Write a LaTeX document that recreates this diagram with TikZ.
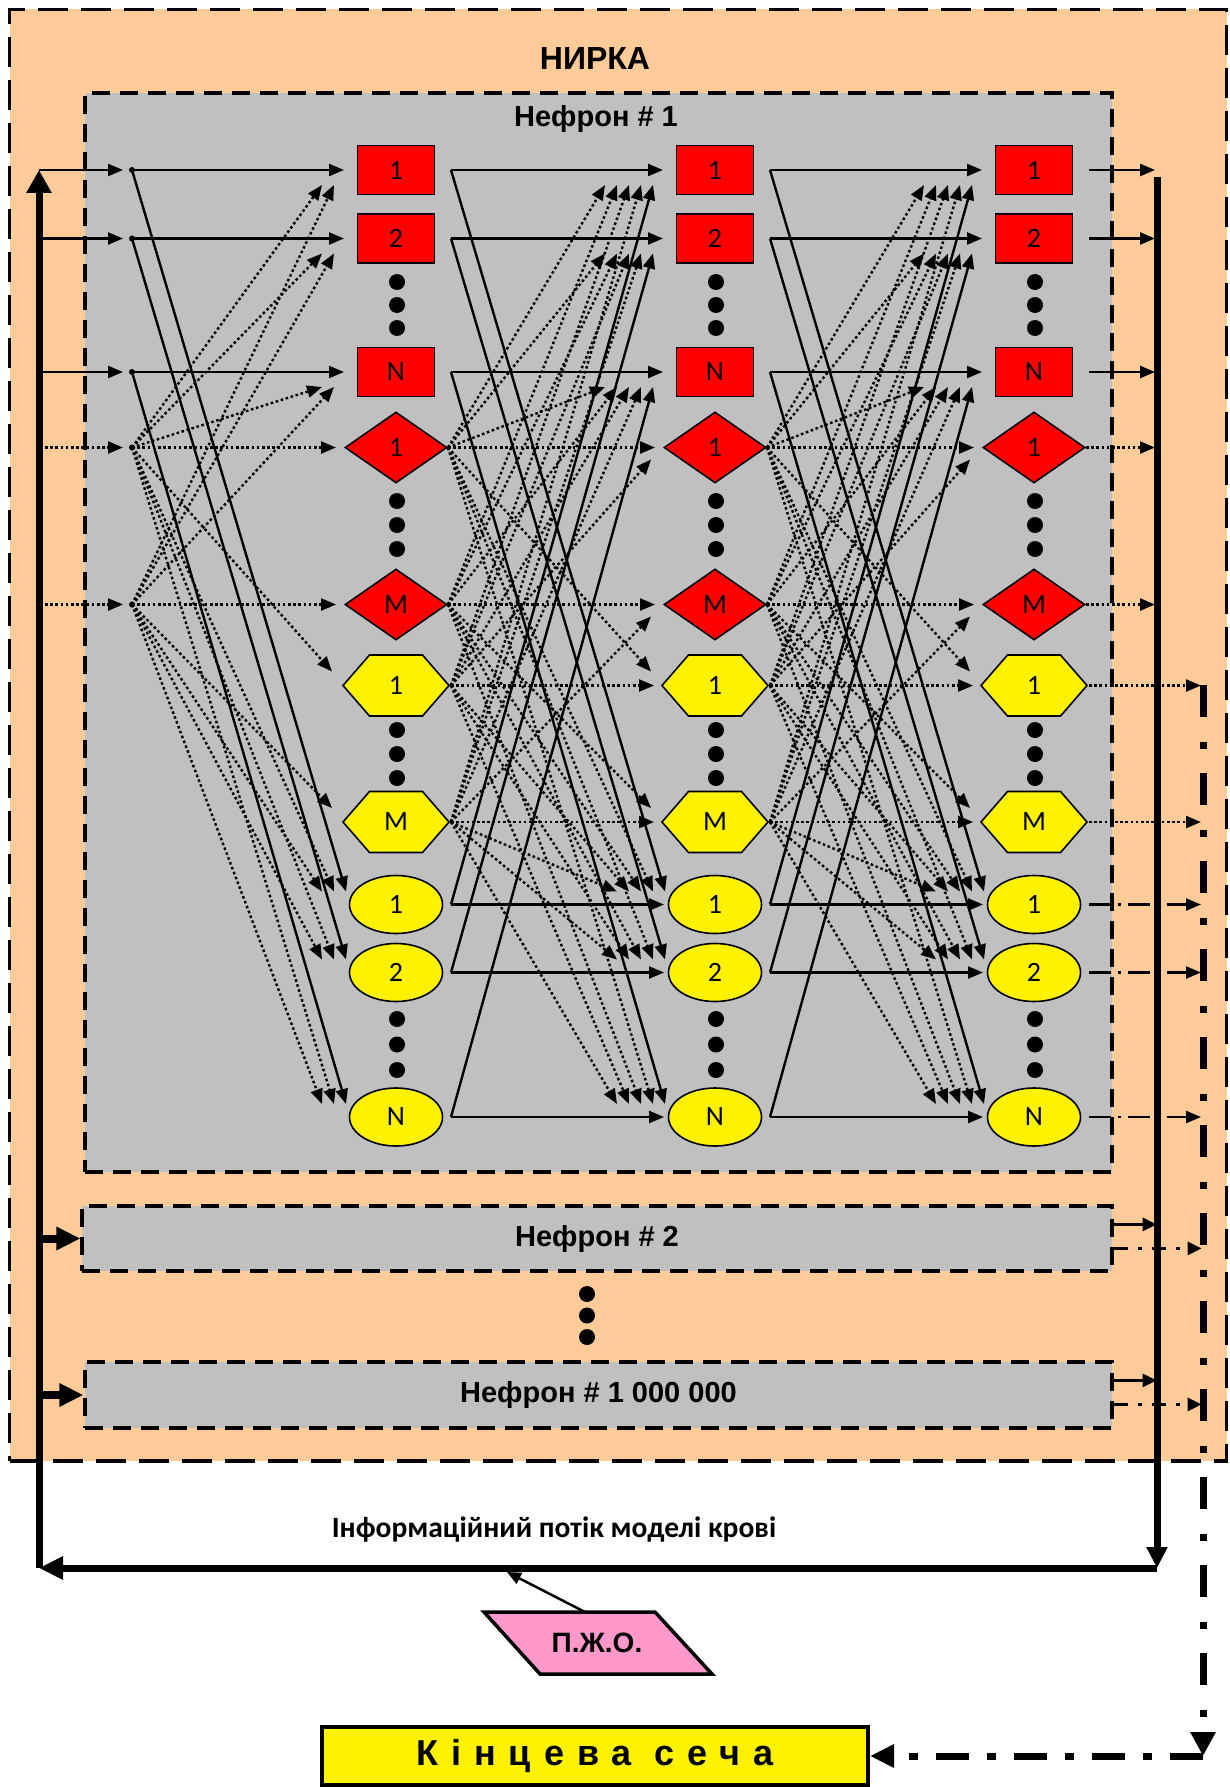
\documentclass[tikz,border=0pt]{standalone}
\usepackage{fontspec}
\setmainfont{Liberation Sans}
\newfontfamily\calib{Carlito}
\newfontfamily\spaced[LetterSpace=36]{Liberation Sans}
\usetikzlibrary{arrows.meta,shapes.geometric,calc}
\definecolor{peach}{HTML}{FFCC99}
\definecolor{grayb}{HTML}{C0C0C0}
\definecolor{pinkb}{HTML}{FF99CC}
\begin{document}
\begin{tikzpicture}[x=1pt,y=-1pt,
  ln/.style={line width=2.4pt,-{Triangle[length=15pt,width=12pt]}},
  dotl/.style={ln,dash pattern=on 2.6pt off 2.6pt},
  ddl/.style={ln,dash pattern=on 22pt off 7pt on 3pt off 7pt},
  nlab/.style={font=\calib\fontsize{28}{32}\selectfont,inner sep=0pt},
  boxn/.style={nlab,draw,line width=1.6pt,fill=red,minimum width=77pt,minimum height=49pt},
  diam/.style={nlab,diamond,draw,line width=1.6pt,fill=red,minimum width=102pt,minimum height=71pt},
  hexn/.style={nlab,minimum width=106pt,minimum height=61pt},
  elln/.style={nlab,ellipse,draw,line width=1.6pt,fill=yellow,minimum width=93pt,minimum height=58pt},
  big/.style={line width=7pt},
  nefbox/.style={draw,fill=grayb,line width=3.2pt,dash pattern=on 18pt off 10pt,inner sep=0pt,
     font=\bfseries\fontsize{29}{34}\selectfont},
]
\useasboundingbox (0,0) rectangle (1230,1787);
\fill[white] (0,0) rectangle (1230,1787);

% containers
\node[draw,fill=peach,line width=3.5pt,dash pattern=on 30pt off 13pt,minimum width=1217pt,minimum height=1451.5pt,inner sep=0pt] (kidney) at (618,735.25) {};
\node[nefbox,minimum width=1027pt,minimum height=1079pt] (nef1) at (598.5,632.5) {};
\node[nefbox,minimum width=1030pt,minimum height=65pt] (N2) at (597,1238.5) {\raisebox{4pt}{Нефрон \# 2}};
\node[nefbox,minimum width=1027pt,minimum height=66pt] (N6) at (598.5,1395) {\raisebox{4pt}{Нефрон \# 1 000 000}};

\node[font=\bfseries\fontsize{32}{38}\selectfont] (title) at (595,58) {НИРКА};
\node[font=\bfseries\fontsize{29}{34}\selectfont] (t1) at (596,119) {Нефрон \# 1};

% node columns
\foreach \c/\x in {1/396,2/715,3/1034} {
  \node[boxn] (B1-\c) at (\x,170) {1};
  \node[boxn] (B2-\c) at (\x,238.5) {2};
  \node[boxn] (BN-\c) at (\x,372) {N};
  \node[diam] (D1-\c) at (\x,447.5) {\raisebox{-3pt}{1}};
  \node[diam] (DM-\c) at (\x,604.5) {\raisebox{-5pt}{M}};
  \foreach \r/\y in {1/685.5,M/822} {
    \filldraw[fill=yellow,line width=1.6pt] (\x-53,\y) -- (\x-26.5,\y-30.5) -- (\x+26.5,\y-30.5)
      -- (\x+53,\y) -- (\x+26.5,\y+30.5) -- (\x-26.5,\y+30.5) -- cycle;
    \node[hexn] (H\r-\c) at (\x,\y) {\r};
  }
  \node[elln] (E1-\c) at (\x,904.5) {1};
  \node[elln] (E2-\c) at (\x,972.5) {2};
  \node[elln] (EN-\c) at (\x,1117) {N};
  \foreach \y in {282,305,328,501,525,549,730,754,778,1019,1044.5,1070}
    \fill (\x+1,\y) circle (8pt);
  \foreach \r in {B1,B2,BN,H1,HM,E1,E2,EN}
    \coordinate (s\r-\c) at ($(\r-\c.center)+(55,0)$);
  \foreach \r in {D1,DM}
    \coordinate (s\r-\c) at ($(\r-\c.center)+(52,0)$);
}
% input distribution points
\coordinate (sB1-0) at (132,170);
\coordinate (sB2-0) at (132,238.5);
\coordinate (sBN-0) at (132,372);
\coordinate (sD1-0) at (132,447.5);
\coordinate (sDM-0) at (132,604.5);

% big frame lines
\coordinate (ltop) at (39,170);
\coordinate (lbot) at (39,1568);
\coordinate (rtop) at (1157,177);
\coordinate (rbot) at (1157,1568);
\draw[big,-{Triangle[length=23pt,width=24pt]}] (lbot) -- (ltop);
\draw[big,-{Triangle[length=21pt,width=20pt]}] (rtop) -- (rbot);
\draw[big,-{Triangle[length=24pt,width=22pt]}] (rbot) -- (lbot);

% inputs
\foreach \r in {B1,B2,BN} \draw[ln] (s\r-0 -| ltop) -- ($(s\r-0)+(-9,0)$);
\foreach \r in {D1,DM} \draw[dotl] ($(s\r-0 -| ltop)+(6,0)$) -- ($(s\r-0)+(-9,0)$);
\foreach \r in {B1,B2,BN,D1,DM} \fill (s\r-0) circle (3pt);

% column to column links
\foreach \c/\p/\ka/\kb in {1/0/1/0,2/1/4/3,3/2/4/3} {
  \foreach \i in {1,2,N} {
    \draw[ln] (sB\i-\p) -- ($(B\i-\c.center)+(-52,0)$);
    \draw[ln] (sB\i-\p) -- ($(E\i-\c.center)+(-50,-13)$);
    \draw[dotl] (sD1-\p) -- ($(B\i-\c.center)+({-62-12*\ka},15)$);
    \draw[dotl] (sDM-\p) -- ($(B\i-\c.center)+({-62-12*\kb},15)$);
    \draw[dotl] (sD1-\p) -- ($(E\i-\c.center)+(-62,-13)$);
    \draw[dotl] (sDM-\p) -- ($(E\i-\c.center)+(-74,-13)$);
  }
  \foreach \j in {1,M} {
    \draw[dotl] (sD\j-\p) -- ($(D\j-\c.center)+(-60,0)$);
    \draw[dotl] (sD\j-\p) -- ($(H\j-\c.center)+(-64,-14)$);
  }
}
\foreach \c/\p in {2/1,3/2} {
  \foreach \i in {1,2,N} {
    \draw[ln] (sE\i-\p) -- ($(E\i-\c.center)+(-51,0)$);
    \draw[ln] (sE\i-\p) -- ($(B\i-\c.center)+(-62,15)$);
    \draw[dotl] (sHM-\p) -- ($(B\i-\c.center)+(-74,15)$);
    \draw[dotl] (sH1-\p) -- ($(B\i-\c.center)+(-86,15)$);
    \draw[dotl] (sH1-\p) -- ($(E\i-\c.center)+(-86,-13)$);
    \draw[dotl] (sHM-\p) -- ($(E\i-\c.center)+(-98,-13)$);
  }
  \foreach \j in {1,M} {
    \draw[dotl] (sH\j-\p) -- ($(H\j-\c.center)+(-61,0)$);
    \draw[dotl] (sH\j-\p) -- ($(D\j-\c.center)+(-64,12)$);
  }
}

% outputs of last column
\coordinate (rl) at (1155,0);
\coordinate (dl) at (1201,0);
\foreach \i in {1,2,N} \draw[ln] (sB\i-3) -- (sB\i-3 -| rl);
\foreach \j in {1,M} \draw[dotl] (sD\j-3) -- (sD\j-3 -| rl);
\foreach \j in {1,M} \draw[dotl] (sH\j-3) -- (sH\j-3 -| dl);
\foreach \i in {1,2,N} \draw[ddl] (sE\i-3) -- (sE\i-3 -| dl);

% other nephrons
\draw[line width=8pt,-{Triangle[length=24pt,width=22pt]}] (N2.west -| ltop) -- (N2.west);
\draw[line width=8pt,-{Triangle[length=24pt,width=22pt]}] (N6.west -| ltop) -- (N6.west);
\foreach \n in {N2,N6} {
  \draw[line width=3pt,-{Triangle[length=14pt,width=13pt]}] ($(\n.north east)+(0,20)$) -- ++(43,0);
  \draw[line width=3pt,dash pattern=on 14pt off 10pt on 4pt off 10pt,-{Triangle[length=14pt,width=13pt]}]
     ($(\n.north east)+(0,44)$) -- ++(88,0);
}
\foreach \y in {1294,1315.5,1337} \fill (587,\y) circle (8pt);

% blood flow text and P.Zh.O.
\node[font=\calib\bfseries\fontsize{29.5}{34}\selectfont] (info) at (554,1530) {Інформаційний потік моделі крові};
\filldraw[fill=pinkb,line width=3.5pt] (484,1612) -- (655,1612) -- (712,1674) -- (540,1674) -- cycle;
\node[font=\bfseries\fontsize{28}{32}\selectfont] (pzo) at (597,1643) {П.Ж.О.};
\coordinate (pzotop) at (585,1612);
\coordinate (pzotip) at (507,1572);
\draw[line width=2.5pt,-{Triangle[length=14pt,width=12pt]}] (pzotop) -- (pzotip);

% final urine
\node[draw,line width=4pt,fill=yellow,minimum width=546pt,minimum height=58pt,inner sep=0pt,
  font=\spaced\bfseries\fontsize{36}{42}\selectfont] (urine) at (595,1756) {Кінцева сеча};
\coordinate (dtop) at (1203,685);
\coordinate (dcorner) at (1203,1756);
\draw[big,dash pattern=on 32pt off 25pt on 7pt off 24pt,-{Triangle[length=24pt,width=24pt]}] (dtop) -- (dcorner);
\draw[big,dash pattern=on 33pt off 18pt on 9pt off 18pt,-{Triangle[length=24pt,width=22pt]}] (dcorner) -- (urine.east);
\end{tikzpicture}
\end{document}
